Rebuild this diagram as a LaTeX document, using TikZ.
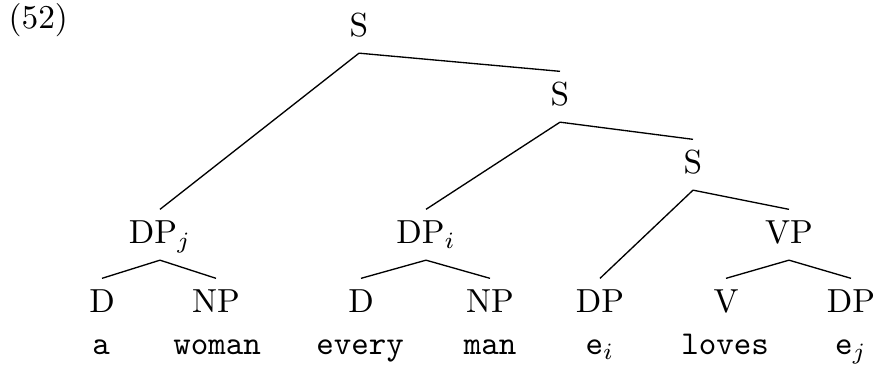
\documentclass[tikz,border=0pt]{standalone}
\begin{document}
\begin{tikzpicture}[x=0.3pt,y=-0.3pt,
  cat/.style={inner sep=0pt, text height=9.9pt, text depth=4.95pt, anchor=base},
  word/.style={inner sep=0pt, anchor=base, font=\ttfamily},
  edge/.style={line width=0.4pt}]
\useasboundingbox (0,0) rectangle (874,367);
\node[inner sep=0pt, anchor=base west] (ex) at (8,28) {(52)};
% categories
\node[cat] (S1) at (359,36) {S};
\node[cat] (S2) at (560,105) {S};
\node[cat] (S3) at (693,173) {S};
\node[cat] (DPj) at (160,243) {DP$_j$};
\node[cat] (DPi) at (426,243) {DP$_i$};
\node[cat] (VP) at (789,243) {VP};
\node[cat] (D1) at (102,312) {D};
\node[cat] (NP1) at (216,312) {NP};
\node[cat] (D2) at (361,312) {D};
\node[cat] (NP2) at (490,312) {NP};
\node[cat] (DP3) at (600,312) {DP};
\node[cat] (V) at (726,312) {V};
\node[cat] (DP4) at (851,312) {DP};
% words
\node[word] (w1) at (101,354) {a};
\node[word] (w2) at (217,354) {woman};
\node[word] (w3) at (360,354) {every};
\node[word] (w4) at (490,354) {man};
\node[word] (w5) at (600,354) {e$_i$};
\node[word] (w6) at (725,354) {loves};
\node[word] (w7) at (851,354) {e$_j$};
% edges
\draw[edge] (S1.south) -- (DPj.north);
\draw[edge] (S1.south) -- (S2.north);
\draw[edge] (S2.south) -- (DPi.north);
\draw[edge] (S2.south) -- (S3.north);
\draw[edge] (S3.south) -- (DP3.north);
\draw[edge] (S3.south) -- (VP.north);
\draw[edge] (DPj.south) -- (D1.north);
\draw[edge] (DPj.south) -- (NP1.north);
\draw[edge] (DPi.south) -- (D2.north);
\draw[edge] (DPi.south) -- (NP2.north);
\draw[edge] (VP.south) -- (V.north);
\draw[edge] (VP.south) -- (DP4.north);
\end{tikzpicture}
\end{document}
